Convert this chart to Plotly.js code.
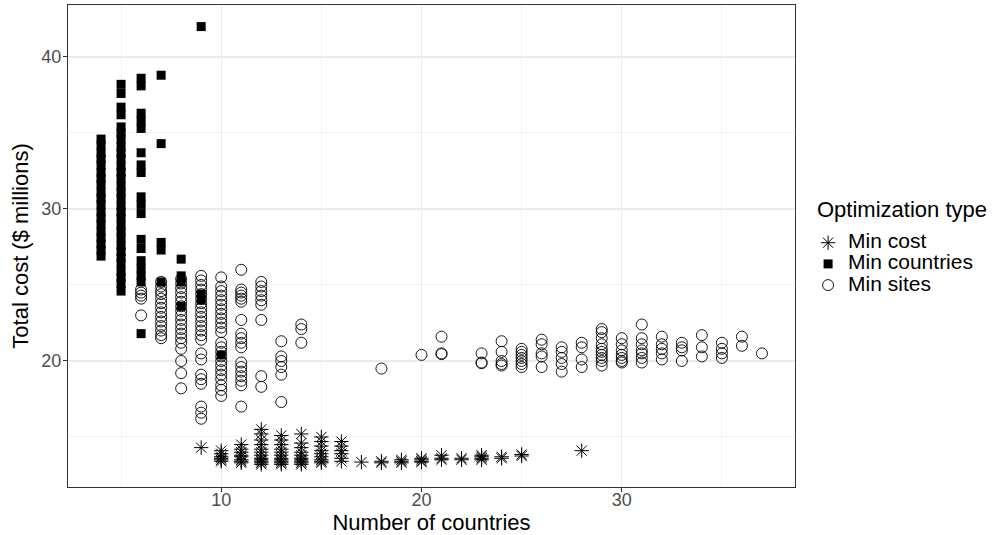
<!DOCTYPE html>
<html>
<head>
<meta charset="utf-8">
<script src="https://cdn.plot.ly/plotly-3.0.1.min.js"></script>
<style>
  html, body { margin: 0; padding: 0; background: #ffffff; }
  #chart { width: 993px; height: 535px; }
</style>
</head>
<body>
<div id="chart"></div>
<script>
// ---- Data ----
const seriesNames = ["Min cost", "Min countries", "Min sites"];
const legendTitle = "Optimization type";

const minCostCountries = [
  9,
  10, 10, 10, 10, 10, 10,
  11, 11, 11, 11, 11, 11, 11, 11,
  12, 12, 12, 12, 12, 12, 12, 12, 12, 12, 12, 12,
  13, 13, 13, 13, 13, 13, 13, 13, 13, 13, 13,
  14, 14, 14, 14, 14, 14, 14, 14, 14, 14,
  15, 15, 15, 15, 15, 15, 15, 15, 15,
  16, 16, 16, 16, 16, 16,
  17,
  18, 18,
  19, 19, 19,
  20, 20, 20, 20,
  21, 21, 21,
  22, 22,
  23, 23, 23, 23,
  24, 24,
  25, 25,
  28
];
const minCostValues = [
  14.3,
  14.1, 13.9, 13.7, 13.6, 13.5, 13.4,
  14.5, 14.2, 14.0, 13.8, 13.7, 13.5, 13.4, 13.3,
  15.5, 15.2, 14.8, 14.5, 14.2, 14.0, 13.8, 13.6, 13.5, 13.4, 13.3, 13.2,
  15.1, 14.8, 14.5, 14.2, 14.0, 13.8, 13.6, 13.5, 13.4, 13.3, 13.2,
  15.2, 14.6, 14.3, 14.0, 13.8, 13.6, 13.5, 13.4, 13.3, 13.2,
  15.0, 14.7, 14.4, 14.1, 13.9, 13.7, 13.5, 13.4, 13.3,
  14.7, 14.4, 14.1, 13.9, 13.6, 13.4,
  13.35,
  13.4, 13.3,
  13.5, 13.4, 13.3,
  13.6, 13.5, 13.4, 13.35,
  13.8, 13.6, 13.5,
  13.6, 13.5,
  13.8, 13.7, 13.6, 13.5,
  13.7, 13.6,
  13.85, 13.75,
  14.1
];

const minCountriesCountries = [
  4, 4, 4, 4, 4, 4, 4, 4, 4, 4, 4, 4, 4, 4, 4, 4, 4, 4, 4,
  5, 5, 5, 5, 5, 5, 5, 5, 5, 5, 5, 5, 5, 5, 5, 5, 5, 5, 5, 5, 5, 5, 5, 5, 5, 5, 5, 5, 5, 5,
  6, 6, 6, 6, 6, 6, 6, 6, 6, 6, 6, 6, 6, 6, 6, 6, 6, 6,
  7, 7, 7, 7, 7,
  8, 8, 8, 8,
  9, 9, 9,
  10
];
const minCountriesValues = [
  34.6, 34.2, 33.7, 33.3, 32.9, 32.4, 32.0, 31.6, 31.1, 30.7, 30.3, 29.8, 29.4, 29.0, 28.5, 28.1, 27.7, 27.3, 26.9,
  38.2, 37.6, 36.7, 36.2, 35.4, 35.0, 34.6, 34.1, 33.7, 33.3, 32.8, 32.4, 32.0, 31.5, 31.1, 30.7, 30.2, 29.8, 29.4, 28.9, 28.5, 28.1, 27.6, 27.2, 26.8, 26.4, 25.9, 25.5, 25.1, 24.6,
  38.6, 38.1, 36.3, 35.8, 35.3, 33.7, 32.9, 32.4, 30.8, 30.3, 29.7, 28.0, 27.4, 26.6, 26.1, 25.6, 25.2, 21.8,
  38.8, 34.3, 27.8, 27.3, 25.2,
  26.7, 25.6, 25.2, 23.6,
  42.0, 24.4, 24.0,
  20.4
];

const minSitesCountries = [
  6, 6, 6, 6, 6,
  7, 7, 7, 7, 7, 7, 7, 7, 7, 7, 7, 7, 7, 7,
  8, 8, 8, 8, 8, 8, 8, 8, 8, 8, 8, 8, 8, 8, 8, 8, 8, 8, 8,
  9, 9, 9, 9, 9, 9, 9, 9, 9, 9, 9, 9, 9, 9, 9, 9, 9, 9, 9, 9, 9, 9, 9,
  10, 10, 10, 10, 10, 10, 10, 10, 10, 10, 10, 10, 10, 10, 10, 10, 10, 10, 10, 10, 10, 10, 10, 10,
  11, 11, 11, 11, 11, 11, 11, 11, 11, 11, 11, 11, 11, 11, 11, 11, 11, 11,
  12, 12, 12, 12, 12, 12, 12, 12, 12,
  13, 13, 13, 13, 13, 13,
  14, 14, 14,
  18,
  20,
  21, 21, 21,
  23, 23, 23,
  24, 24, 24, 24, 24,
  25, 25, 25, 25, 25, 25, 25,
  26, 26, 26, 26, 26,
  27, 27, 27, 27, 27,
  28, 28, 28, 28,
  29, 29, 29, 29, 29, 29, 29, 29, 29, 29,
  30, 30, 30, 30, 30, 30, 30,
  31, 31, 31, 31, 31, 31, 31,
  32, 32, 32, 32, 32,
  33, 33, 33, 33,
  34, 34, 34,
  35, 35, 35, 35,
  36, 36,
  37
];
const minSitesValues = [
  24.7, 24.5, 24.3, 24.1, 23.0,
  25.2, 24.9, 24.6, 24.4, 24.1, 23.8, 23.5, 23.2, 22.9, 22.6, 22.3, 22.0, 21.7, 21.5,
  25.4, 25.1, 24.8, 24.5, 24.2, 23.9, 23.6, 23.3, 23.0, 22.7, 22.4, 22.1, 21.8, 21.5, 21.2, 20.8, 20.0, 19.2, 18.2,
  25.6, 25.3, 25.0, 24.7, 24.4, 24.1, 23.8, 23.5, 23.2, 22.9, 22.6, 22.3, 22.0, 21.7, 21.4, 20.5, 20.1, 19.1, 18.8, 18.5, 17.0, 16.6, 16.2,
  25.5, 24.9, 24.6, 24.3, 24.0, 23.7, 23.4, 23.1, 22.8, 22.5, 22.2, 21.9, 21.2, 20.9, 20.6, 20.3, 20.0, 19.7, 19.4, 19.1, 18.8, 18.4, 18.1, 17.7,
  26.0, 24.7, 24.5, 24.3, 24.1, 23.9, 22.7, 21.8, 21.5, 21.2, 20.9, 19.9, 19.6, 19.3, 19.0, 18.7, 18.4, 17.0,
  25.2, 24.9, 24.6, 24.3, 24.0, 23.7, 22.7, 19.0, 18.3,
  21.3, 20.3, 20.0, 19.6, 19.1, 17.3,
  22.4, 22.1, 21.2,
  19.5,
  20.4,
  21.6, 20.5, 20.45,
  20.5, 19.9, 19.85,
  21.3, 20.6, 20.0, 19.8, 19.7,
  20.8, 20.6, 20.4, 20.2, 20.0, 19.8, 19.6,
  21.4, 21.1, 20.5, 20.3, 19.6,
  20.9, 20.6, 20.2, 19.8, 19.3,
  21.2, 20.9, 20.1, 19.6,
  22.1, 21.9, 21.5, 21.1, 20.8, 20.6, 20.4, 20.2, 20.0, 19.7,
  21.5, 21.1, 20.7, 20.4, 20.2, 20.0, 19.9,
  22.4, 21.5, 21.1, 20.7, 20.5, 20.2, 19.9,
  21.6, 21.1, 20.8, 20.5, 20.1,
  21.2, 20.9, 20.7, 20.0,
  21.7, 20.9, 20.3,
  21.2, 20.8, 20.5, 20.2,
  21.6, 21.0,
  20.5
];

const xTickValues = [10, 20, 30];
const yTickValues = [20, 30, 40];

// ---- Styling ----
const FONT = "Liberation Sans, Arial, Helvetica, sans-serif";
const GRID = "#EBEBEB";
const DARK = "#333333";
const legendName = (s) => '<span style="font-size:21px">' + s + '</span>';

const traces = [
  {
    type: "scatter", mode: "markers", name: legendName(seriesNames[0]),
    x: minCostCountries, y: minCostValues,
    marker: { symbol: "asterisk-open", size: 12, color: "#000000",
              line: { color: "#000000", width: 1 } }
  },
  {
    type: "scatter", mode: "markers", name: legendName(seriesNames[1]),
    x: minCountriesCountries, y: minCountriesValues,
    marker: { symbol: "square", size: 9, color: "#000000",
              line: { width: 0 } }
  },
  {
    type: "scatter", mode: "markers", name: legendName(seriesNames[2]),
    x: minSitesCountries, y: minSitesValues,
    marker: { symbol: "circle-open", size: 11, color: "#000000",
              line: { color: "#000000", width: 0.9 } }
  }
];

const layout = {
  width: 993, height: 535,
  margin: { l: 68, r: 198, t: 5, b: 48 },
  paper_bgcolor: "#ffffff", plot_bgcolor: "#ffffff",
  font: { family: FONT, color: "#000000" },
  showlegend: true,
  legend: {
    x: 1.018, xanchor: "left", y: 0.5392, yanchor: "top",
    font: { size: 14, family: FONT, color: "#000000" },
    tracegroupgap: 0, itemwidth: 30,
    bgcolor: "rgba(0,0,0,0)"
  },
  annotations: [
    {
      text: legendTitle, xref: "paper", yref: "paper",
      x: 1.0276, xanchor: "left", y: 0.5747, yanchor: "middle",
      showarrow: false,
      font: { size: 22, family: FONT, color: "#000000" }
    }
  ],
  xaxis: {
    range: [2.35, 38.65],
    tickvals: xTickValues, ticktext: xTickValues.map(String),
    ticks: "outside", ticklen: 4, tickwidth: 1, tickcolor: DARK,
    ticklabelstandoff: -8,
    tickfont: { size: 18, color: "#4D4D4D", family: FONT },
    showgrid: true, gridcolor: GRID, gridwidth: 1.1,
    minor: { tickvals: [5, 15, 25, 35], showgrid: true, gridcolor: GRID, gridwidth: 0.6, ticks: "" },
    zeroline: false,
    showline: true, mirror: true, linecolor: DARK, linewidth: 1,
    title: { text: "Number of countries", font: { size: 22, family: FONT, color: "#000000" }, standoff: 10 }
  },
  yaxis: {
    range: [11.71, 43.42],
    tickvals: yTickValues, ticktext: yTickValues.map(String),
    ticks: "outside", ticklen: 4, tickwidth: 1, tickcolor: DARK,
    ticklabelstandoff: -2,
    tickfont: { size: 18, color: "#4D4D4D", family: FONT },
    showgrid: true, gridcolor: GRID, gridwidth: 1.1,
    minor: { tickvals: [15, 25, 35], showgrid: true, gridcolor: GRID, gridwidth: 0.6, ticks: "" },
    zeroline: false,
    showline: true, mirror: true, linecolor: DARK, linewidth: 1,
    title: { text: "Total cost ($ millions)", font: { size: 22, family: FONT, color: "#000000" }, standoff: 6 }
  }
};

Plotly.newPlot("chart", traces, layout, { displayModeBar: false, staticPlot: true });
</script>
</body>
</html>
